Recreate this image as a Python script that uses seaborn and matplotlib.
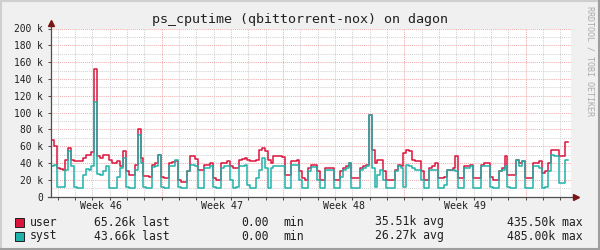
import numpy as np
import pandas as pd
import matplotlib
matplotlib.use("Agg")
import matplotlib.pyplot as plt
from matplotlib.patches import Rectangle
from matplotlib.lines import Line2D
import matplotlib.transforms as mtransforms
import seaborn as sns

# ---------------- data ----------------
TITLE = "ps_cputime (qbittorrent-nox) on dagon"
STEP_DAYS = 1 / 6          # one sample every 4 hours
SPAN_DAYS = 30

user_k = [
    67, 60, 34, 33, 32, 44,
    58, 44, 43, 42, 42, 46,
    49, 50, 53, 152, 48, 46,
    50, 50, 44, 40, 40, 42,
    36, 54, 30, 26, 26, 38,
    81, 46, 25, 25, 23, 38,
    40, 50, 24, 22, 22, 40,
    41, 42, 20, 18, 18, 30,
    48, 48, 45, 32, 32, 38,
    38, 40, 22, 20, 20, 40,
    40, 42, 36, 34, 34, 44,
    45, 46, 44, 43, 43, 44,
    55, 58, 54, 44, 40, 48,
    48, 48, 47, 26, 26, 42,
    42, 44, 30, 22, 20, 34,
    38, 38, 30, 20, 20, 34,
    34, 34, 20, 20, 30, 34,
    36, 40, 22, 22, 22, 34,
    36, 38, 97, 56, 40, 44,
    44, 30, 20, 20, 20, 32,
    38, 36, 52, 56, 54, 44,
    42, 42, 30, 20, 20, 34,
    36, 40, 22, 22, 24, 32,
    32, 34, 48, 22, 22, 36,
    36, 38, 22, 22, 22, 38,
    40, 40, 24, 20, 20, 30,
    34, 48, 26, 26, 26, 44,
    40, 42, 22, 22, 22, 40,
    40, 42, 28, 30, 40, 56,
    56, 55, 48, 48, 65,
]

syst_k = [
    37, 38, 12, 11, 11, 32,
    54, 36, 12, 10, 10, 26,
    33, 32, 37, 113, 27, 26,
    30, 36, 10, 10, 10, 24,
    34, 46, 12, 10, 10, 32,
    73, 40, 12, 10, 10, 35,
    37, 50, 12, 10, 10, 36,
    36, 44, 12, 10, 10, 30,
    38, 38, 36, 10, 10, 34,
    34, 36, 12, 10, 10, 34,
    36, 36, 20, 10, 12, 36,
    36, 38, 14, 10, 10, 22,
    32, 46, 34, 10, 34, 36,
    36, 36, 36, 10, 10, 38,
    38, 38, 20, 10, 10, 30,
    35, 35, 20, 10, 10, 32,
    32, 32, 10, 10, 24, 32,
    34, 40, 10, 10, 10, 32,
    34, 36, 97, 34, 12, 26,
    32, 20, 10, 10, 10, 30,
    36, 34, 12, 38, 36, 34,
    32, 32, 20, 10, 10, 32,
    32, 32, 10, 10, 14, 32,
    32, 32, 30, 10, 10, 34,
    34, 36, 10, 10, 10, 36,
    36, 36, 12, 10, 10, 30,
    32, 36, 12, 10, 10, 44,
    36, 42, 10, 10, 10, 36,
    36, 34, 10, 12, 30, 50,
    48, 48, 16, 16, 44,
]

series_names = ["user", "syst"]
series_colors = ["#DC143C", "#20B2AA"]
legend_last = ["65.26k", "43.66k"]
legend_min = ["0.00", "0.00"]
legend_avg = ["35.51k", "26.27k"]
legend_max = ["435.50k", "485.00k"]

week_labels = ["Week 46", "Week 47", "Week 48", "Week 49"]
first_week_start = -0.62     # days relative to the left edge of the plot
y_ticks = [0, 20, 40, 60, 80, 100, 120, 140, 160, 180, 200]

# ---------------- build frame ----------------
n = len(user_k)
t = [i * STEP_DAYS for i in range(n)] + [n * STEP_DAYS]
u = user_k + [user_k[-1]]
s = syst_k + [syst_k[-1]]
df = pd.DataFrame({"t": t, "user": u, "syst": s})
long = df.melt(id_vars="t", var_name="series", value_name="value")

# ---------------- figure ----------------
W, H = 600, 250
MONO = "DejaVu Sans Mono"
fig = plt.figure(figsize=(W / 100, H / 100), dpi=100)
fig.patch.set_facecolor("#F0F0F0")

x0, x1 = 51, 571
yb, yt = 196.7, 28.5
ax = fig.add_axes([x0 / W, (H - yb) / H, (x1 - x0) / W, (yb - yt) / H])
ax.set_facecolor("white")
ax.set_xlim(0, SPAN_DAYS)
ax.set_ylim(0, 200)
for sp in ax.spines.values():
    sp.set_visible(False)

dot = (0, (1, 1))
MINOR_C = "#D2D2D2"
MAJOR_C = "#F2AEAE"
# horizontal grid
for v in range(10, 200, 20):
    ax.axhline(v, color=MINOR_C, lw=0.75, ls=dot, zorder=0)
for v in range(20, 201, 20):
    ax.axhline(v, color=MAJOR_C, lw=0.75, ls=dot, zorder=0)
# vertical grid
week_lines = [first_week_start + 7 * k for k in range(1, 5)]
day_lines = [week_lines[0] - 7 + d for d in range(0, 40)]
for d in day_lines:
    if 0 < d < SPAN_DAYS and all(abs(d - w) > 0.01 for w in week_lines):
        ax.axvline(d, color=MINOR_C, lw=0.75, ls=dot, zorder=0)
for w in week_lines:
    ax.axvline(w, color=MAJOR_C, lw=0.75, ls=dot, zorder=0)

# data lines
sns.lineplot(data=long, x="t", y="value", hue="series", hue_order=series_names,
             palette=dict(zip(series_names, series_colors)), drawstyle="steps-post",
             lw=1.1, legend=False, estimator=None, errorbar=None, ax=ax, zorder=3)

# ticks
ax.set_yticks(y_ticks)
ax.set_yticklabels([("%d k" % v) if v else "0" for v in y_ticks], family=MONO, fontsize=6.9)
ax.tick_params(axis="y", length=2, width=0.75, color="#505050", pad=4, labelcolor="#202020")
ax.set_xticks([d for d in day_lines if 0 < d < SPAN_DAYS])
ax.set_xticklabels([])
ax.tick_params(axis="x", length=2, width=0.75, color="#505050")
ax.set_xlabel("")
ax.set_ylabel("")

# axes with arrows
ax.plot([-0.006, 1.01], [0, 0], transform=ax.transAxes, clip_on=False, color="#505050", lw=0.9, zorder=5)
ax.plot([0, 0], [0, 1.03], transform=ax.transAxes, clip_on=False, color="#505050", lw=0.9, zorder=5)
ax.plot([1.0105], [0], transform=ax.transAxes, clip_on=False, marker=">", ms=4, color="#7A1515", zorder=6)
ax.plot([0], [1.035], transform=ax.transAxes, clip_on=False, marker="^", ms=4, color="#7A1515", zorder=6)

# week labels centred mid-week
blend = mtransforms.blended_transform_factory(ax.transData, fig.transFigure)
for k, lab in enumerate(week_labels):
    mid = first_week_start + 7 * k + 3.5
    ax.text(mid, 1 - 206 / H, lab, transform=blend, ha="center", va="center",
            family=MONO, fontsize=7.1, color="#202020")

# title
fig.text(0.5, 1 - 19 / H, TITLE, ha="center", va="center", family=MONO, fontsize=9.6, color="#202020")
# watermark
fig.text(590 / W, 1 - 61 / H, "RRDTOOL / TOBI OETIKER", rotation=270, ha="center", va="center",
         family=MONO, fontsize=6.0, color="#ABABAB")

# legend
row_y = [222, 236]
for i, name in enumerate(series_names):
    yy = row_y[i]
    fig.patches.append(Rectangle((15 / W, 1 - (yy + 4.5) / H), 9 / W, 9 / H, transform=fig.transFigure,
                                 facecolor=series_colors[i], edgecolor="#202020", lw=0.7))
    fy = 1 - yy / H
    kw = dict(va="center", ha="left", family=MONO, fontsize=8.3, color="#202020")
    fig.text(30 / W, fy, name, **kw)
    fig.text(94 / W, fy, legend_last[i] + " last", **kw)
    fig.text(241 / W, fy, legend_min[i], **kw)
    fig.text(283 / W, fy, "min", **kw)
    fig.text(375 / W, fy, legend_avg[i] + " avg", **kw)
    fig.text(507 / W, fy, legend_max[i] + " max", **kw)

# border
fig.add_artist(Line2D([0, 1], [1 - 1 / H, 1 - 1 / H], transform=fig.transFigure, color="#CFCFCF", lw=1.5))
fig.add_artist(Line2D([1 / W, 1 / W], [0, 1], transform=fig.transFigure, color="#CFCFCF", lw=1.5))
fig.add_artist(Line2D([0, 1], [1 / H, 1 / H], transform=fig.transFigure, color="#9E9E9E", lw=1.5))
fig.add_artist(Line2D([1 - 1 / W, 1 - 1 / W], [0, 1], transform=fig.transFigure, color="#9E9E9E", lw=1.5))

fig.savefig("out.png", dpi=100, facecolor=fig.get_facecolor())
